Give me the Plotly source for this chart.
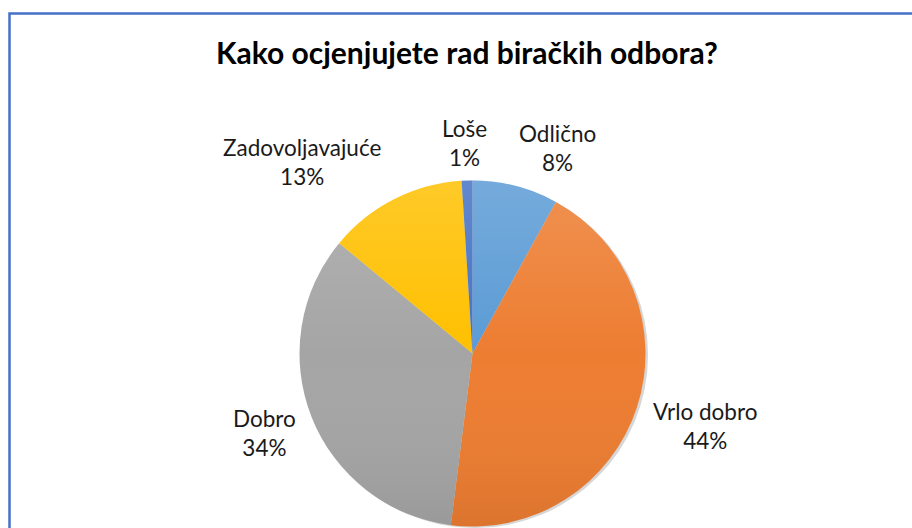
import base64
import plotly.graph_objects as go

# Data
categories = ["Odlično", "Vrlo dobro", "Dobro", "Zadovoljavajuće", "Loše"]
values = [8, 44, 34, 13, 1]
colors = ["#5B9BD5", "#ED7D31", "#A5A5A5", "#FFC000", "#4472C4"]
title_text = "Kako ocjenjujete rad biračkih odbora?"

# label block centres (px in 912x528 canvas)
label_pos = [(557, 148), (705, 426), (264, 433), (302, 162), (465, 143)]

W, H = 912, 528
cx, cy, r = 472.5, 353.5, 173.0

def dom(cx, cy, r):
    return dict(x=[max(0, (cx - r) / W), min(1, (cx + r) / W)],
                y=[max(0, (H - cy - r) / H), min(1, (H - cy + r) / H)])

total = sum(values)
fig = go.Figure()

# soft shadow
fig.add_trace(go.Pie(values=[1], labels=["shadow"], marker=dict(colors=["rgba(0,0,0,0.16)"], line=dict(width=0)),
                     domain=dom(cx + 2.5, cy + 1.5, r), textinfo="none", hoverinfo="skip",
                     showlegend=False, sort=False))

fig.add_trace(go.Pie(
    labels=categories, values=values, sort=False, direction="clockwise", rotation=0,
    marker=dict(colors=colors, line=dict(color="rgba(255,255,255,0)", width=0)),
    textinfo="none", domain=dom(cx, cy, r), showlegend=False,
))

# subtle vertical shading overlay (Excel-style gradient fill)
svg = ('<svg xmlns="http://www.w3.org/2000/svg" width="200" height="200" viewBox="0 0 200 200">'
       '<defs><linearGradient id="g" x1="0" y1="0" x2="0" y2="1">'
       '<stop offset="0" stop-color="#ffffff" stop-opacity="0.16"/>'
       '<stop offset="0.5" stop-color="#ffffff" stop-opacity="0"/>'
       '<stop offset="1" stop-color="#000000" stop-opacity="0.07"/>'
       '</linearGradient></defs><circle cx="100" cy="100" r="100" fill="url(#g)"/></svg>')
fig.add_layout_image(
    source="data:image/svg+xml;base64," + base64.b64encode(svg.encode()).decode(),
    xref="paper", yref="paper", x=(cx - r) / W, y=(H - cy + r) / H,
    sizex=2 * r / W, sizey=2 * r / H, xanchor="left", yanchor="top",
    sizing="stretch", layer="above",
)

for lab, v, (px, py) in zip(categories, values, label_pos):
    fig.add_annotation(
        x=px / W, y=1 - py / H, xref="paper", yref="paper",
        text=f"{lab}<br>{round(v / total * 100)}%",
        showarrow=False, xanchor="center", yanchor="middle",
        font=dict(family="Lato", size=22.5, color="#1a1a1a"),
    )

fig.add_annotation(
    x=467 / W, y=1 - 52 / H, xref="paper", yref="paper",
    text=f"<b>{title_text}</b>", showarrow=False, xanchor="center", yanchor="middle",
    font=dict(family="Lato", size=30, color="#000000"),
)

# chart border (extends past right/bottom edges)
fig.add_shape(type="rect", xref="paper", yref="paper",
              x0=9.5 / W, y0=-0.05, x1=1.05, y1=1 - 13.5 / H,
              line=dict(color="#4472C4", width=2.5), fillcolor="rgba(0,0,0,0)")

fig.update_layout(
    width=W, height=H, margin=dict(l=0, r=0, t=0, b=0),
    paper_bgcolor="white", plot_bgcolor="white",
)

fig.write_html("out.html", config={"displayModeBar": False},
               post_script="document.body.style.margin='0';document.body.style.overflow='hidden';")
